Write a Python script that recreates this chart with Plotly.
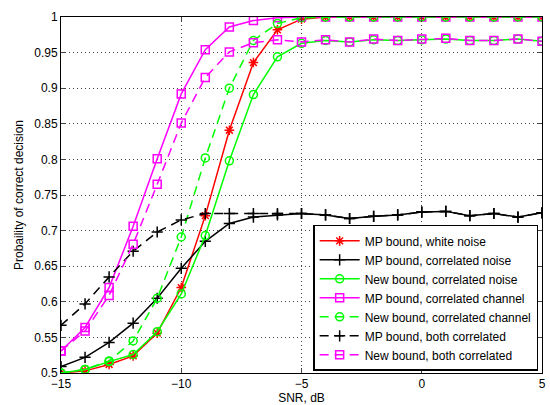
import plotly.graph_objects as go

snr = list(range(-15, 6))

mp_white = [0.500, 0.503, 0.512, 0.524, 0.556, 0.620, 0.721, 0.841, 0.936, 0.982, 0.997,
            1.0, 1.0, 1.0, 1.0, 1.0, 1.0, 1.0, 1.0, 1.0, 1.0]
mp_corr_noise = [0.509, 0.522, 0.543, 0.570, 0.605, 0.647, 0.685, 0.710, 0.719, 0.722, 0.724,
                 0.722, 0.717, 0.720, 0.722, 0.726, 0.727, 0.721, 0.724, 0.719, 0.725]
new_corr_noise = [0.500, 0.505, 0.516, 0.526, 0.558, 0.611, 0.693, 0.798, 0.891, 0.944, 0.963,
                  0.967, 0.965, 0.968, 0.967, 0.968, 0.969, 0.967, 0.967, 0.969, 0.966]
mp_corr_channel = [0.531, 0.564, 0.620, 0.706, 0.801, 0.892, 0.954, 0.986, 0.995, 0.999, 1.0,
                   1.0, 1.0, 1.0, 1.0, 1.0, 1.0, 1.0, 1.0, 1.0, 1.0]
new_corr_channel = [0.500, 0.505, 0.517, 0.545, 0.605, 0.691, 0.802, 0.900, 0.967, 0.991, 0.999,
                    1.0, 1.0, 1.0, 1.0, 1.0, 1.0, 1.0, 1.0, 1.0, 1.0]
mp_both = [0.567, 0.597, 0.635, 0.671, 0.698, 0.715, 0.724, 0.724, 0.724, 0.724, 0.724,
           0.722, 0.717, 0.720, 0.722, 0.726, 0.727, 0.721, 0.724, 0.719, 0.725]
new_both = [0.531, 0.559, 0.609, 0.681, 0.765, 0.851, 0.915, 0.951, 0.964, 0.968, 0.965,
            0.968, 0.965, 0.969, 0.967, 0.969, 0.970, 0.967, 0.967, 0.969, 0.966]

series = [
    ("MP bound, white noise", mp_white, "#ff0000", "solid", "asterisk-open"),
    ("MP bound, correlated noise", mp_corr_noise, "#000000", "solid", "cross-thin-open"),
    ("New bound, correlated noise", new_corr_noise, "#00ff00", "solid", "circle-open"),
    ("MP bound, correlated channel", mp_corr_channel, "#ff00ff", "solid", "square-open"),
    ("New bound, correlated channel", new_corr_channel, "#00ff00", "9px,6px", "circle-open"),
    ("MP bound, both correlated", mp_both, "#000000", "9px,6px", "cross-thin-open"),
    ("New bound, both correlated", new_both, "#ff00ff", "9px,6px", "square-open"),
]

fig = go.Figure()
for name, ys, col, dash, sym in series:
    fig.add_trace(go.Scatter(
        x=snr, y=ys, name=name, mode="lines+markers",
        line=dict(color=col, width=1.5, dash=dash),
        marker=dict(symbol=sym, size=8, color=col, line=dict(color=col, width=1.5)),
    ))

yticks = [0.5, 0.55, 0.6, 0.65, 0.7, 0.75, 0.8, 0.85, 0.9, 0.95, 1.0]
ytext = ["0.5", "0.55", "0.6", "0.65", "0.7", "0.75", "0.8", "0.85", "0.9", "0.95", "1"]
xticks = [-15, -10, -5, 0, 5]

font = "Liberation Sans, Arial, sans-serif"
grid = dict(showgrid=True, gridcolor="#444", griddash="1px,3px", gridwidth=1)
fig.update_layout(
    width=550, height=405,
    margin=dict(l=61, r=4, t=17, b=31),
    paper_bgcolor="white", plot_bgcolor="white",
    font=dict(family=font, size=12, color="black"),
    showlegend=True,
    legend=dict(
        x=0.992, y=0.006, xanchor="right", yanchor="bottom",
        bgcolor="white", bordercolor="black", borderwidth=1.5,
        font=dict(size=12), tracegroupgap=0, itemwidth=40,
    ),
    xaxis=dict(
        range=[-15, 5], tickvals=xticks, ticks="inside", ticklen=5,
        showline=True, linecolor="black", linewidth=1, mirror="allticks",
        zeroline=False, title=dict(text="SNR, dB", standoff=1, font=dict(size=12)),
        tickfont=dict(size=12), **grid,
    ),
    yaxis=dict(
        range=[0.5, 1.0], tickvals=yticks, ticktext=ytext, ticks="inside", ticklen=5,
        showline=True, linecolor="black", linewidth=1, mirror="allticks",
        zeroline=False, title=dict(text="Probaility of correct decision", standoff=8, font=dict(size=12)),
        tickfont=dict(size=12), **grid,
    ),
)

fig.write_html("out.html", config={"displayModeBar": False},
               post_script="document.body.style.margin='0';")
